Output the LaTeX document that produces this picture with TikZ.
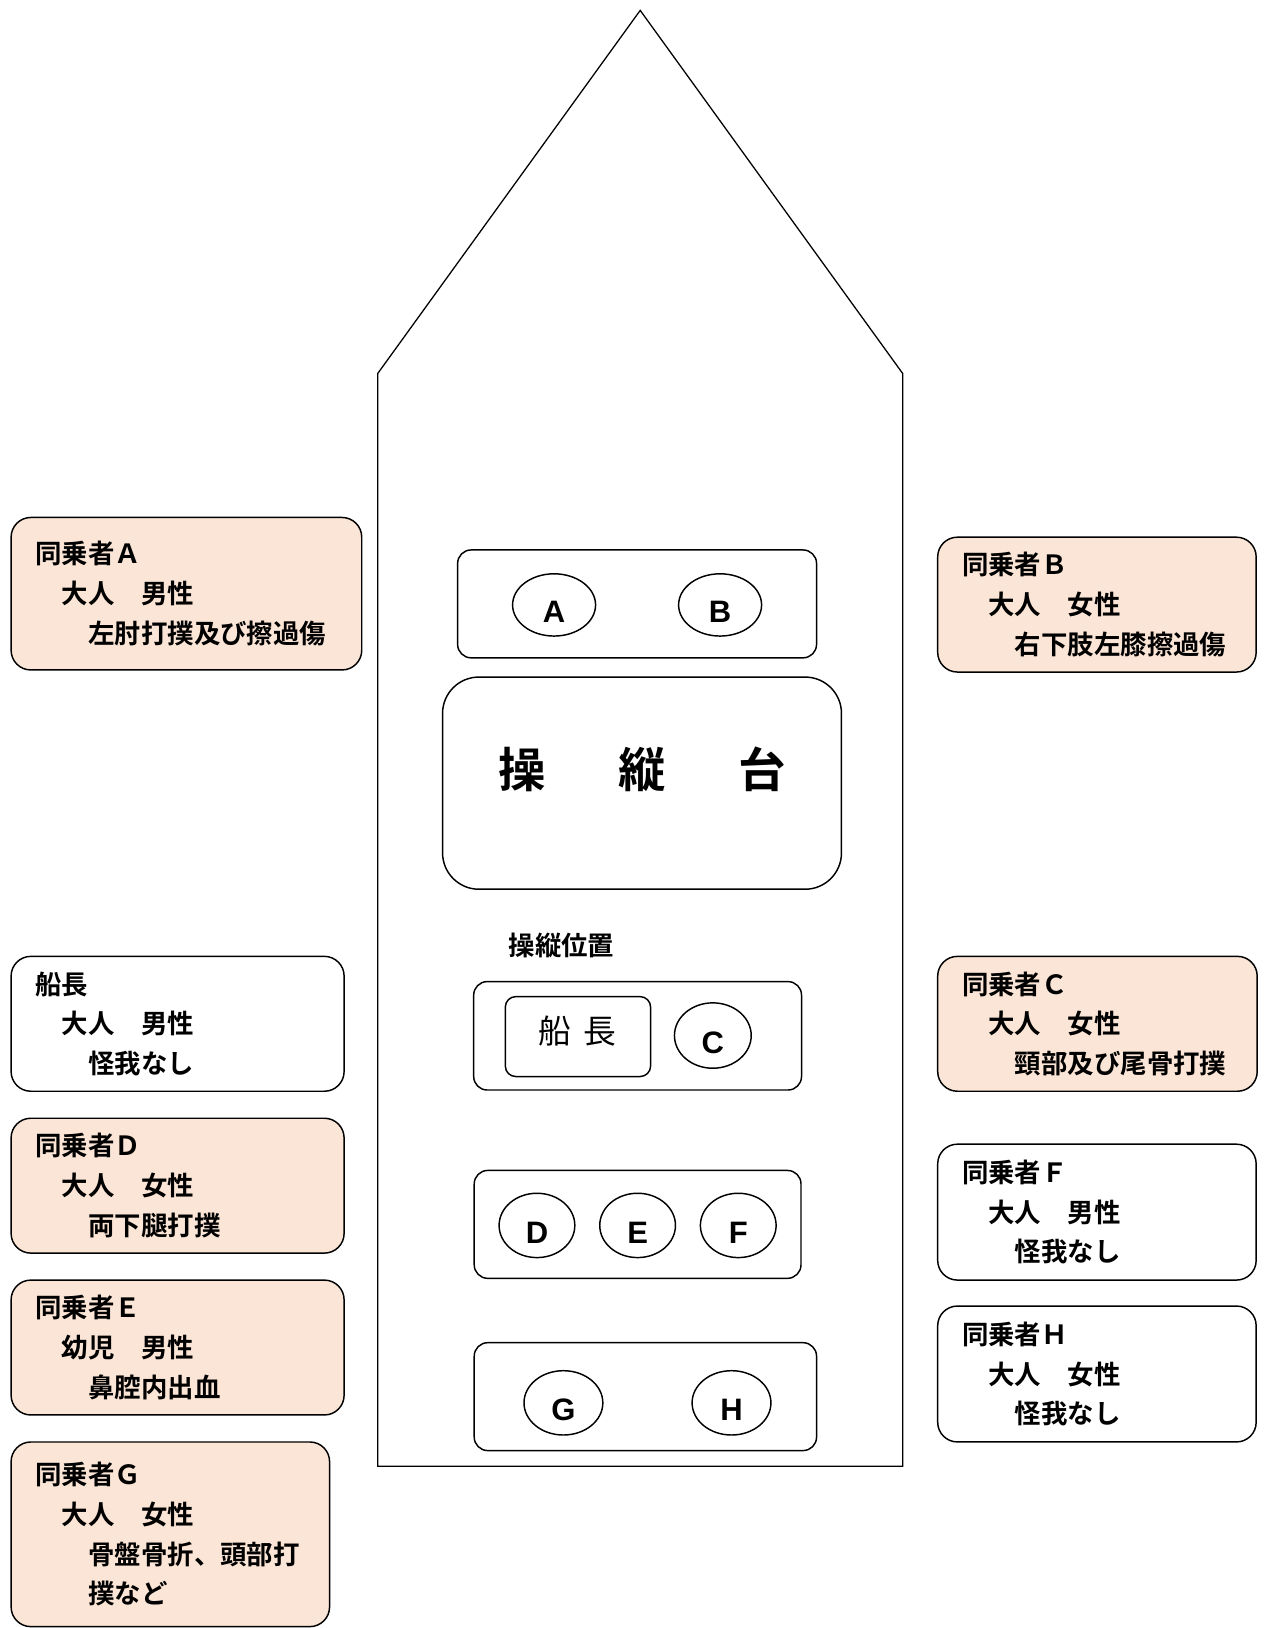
\documentclass[tikz,border=0pt]{standalone}
\usepackage{fontspec}
\setmainfont{Noto Sans CJK JP}[BoldFont={Noto Sans CJK JP Bold}]
\newfontfamily\seatfont{Liberation Sans}
\usetikzlibrary{shapes.geometric,positioning}
\definecolor{injury}{RGB}{251,229,214}

\begin{document}
\begin{tikzpicture}[x=0.02cm,y=-0.02cm,
    pbox/.style={draw,line width=0.8pt,rounded corners=0.38cm,anchor=north west,align=left,
        inner xsep=0.47cm,inner ysep=0pt,minimum height=2.6cm,text width=5.2cm,
        font=\bfseries\fontsize{14.5}{21.8}\selectfont},
    hurt/.style={pbox,fill=injury},
    rowbox/.style={draw,line width=0.8pt,rounded corners=0.26cm,inner sep=0pt},
    seat/.style={ellipse,draw,line width=0.8pt,inner sep=0pt,minimum width=1.6cm,minimum height=1.2cm,
        text height=0.68cm,text depth=0pt,font=\seatfont\bfseries\fontsize{17}{17}\selectfont}]
\useasboundingbox (0,0) rectangle (1220,1569);

% hull
\draw[line width=0.7pt] (617,10) -- (870,360) -- (870,1413) -- (364,1413) -- (364,360) -- cycle;

% front seats and console
\node[rowbox,minimum width=6.92cm,minimum height=2.08cm] (rowAB) at (614,582) {};
\node[seat] (A) at (534,583) {A};
\node[seat] (B) at (694,583) {B};
\node[rowbox,rounded corners=0.7cm,minimum width=7.69cm,minimum height=4.09cm] (console) at (618.75,754.75) {};
\node[font=\bfseries\fontsize{26}{26}\selectfont] (consolelabel) at (619,741) {操\hspace{1.4cm}縦\hspace{1.4cm}台};

% helm
\node[anchor=west,font=\bfseries\fontsize{14.5}{14.5}\selectfont] (helmlabel) at (484,911) {操縦位置};
\node[rowbox,minimum width=6.32cm,minimum height=2.09cm] (rowCaptain) at (614.5,998.25) {};
\node[rowbox,rounded corners=0.2cm,minimum width=2.8cm,minimum height=1.54cm] (captainseat) at (557,999) {};
\node[font=\fontsize{18}{18}\selectfont] (captainlabel) at (556.5,993.5) {船\hspace{0.25cm}長};
\node[seat,minimum width=1.48cm,minimum height=1.26cm] (C) at (687,998) {C};

% rear seats
\node[rowbox,minimum width=6.3cm,minimum height=2.08cm] (rowDEF) at (614.5,1180) {};
\node[seat,minimum width=1.46cm,minimum height=1.24cm] (D) at (517.5,1181) {D};
\node[seat,minimum width=1.46cm,minimum height=1.24cm] (E) at (614.5,1181) {E};
\node[seat,minimum width=1.46cm,minimum height=1.24cm] (F) at (711.5,1181) {F};
\node[rowbox,minimum width=6.6cm,minimum height=2.08cm] (rowGH) at (622,1346) {};
\node[seat,minimum width=1.52cm,minimum height=1.24cm] (G) at (543,1352) {G};
\node[seat,minimum width=1.52cm,minimum height=1.24cm] (H) at (705,1352) {H};

% persons on board
\node[hurt,text width=5.82cm,minimum height=2.94cm] (infoA) at (10,498) {同乗者Ａ\\　大人　男性\\　　左肘打撲及び擦過傷};
\node[pbox,text width=5.48cm] (infoCaptain) at (10,921) {船長\\　大人　男性\\　　怪我なし};
\node[hurt,text width=5.48cm] (infoD) at (10,1077) {同乗者Ｄ\\　大人　女性\\　　両下腿打撲};
\node[hurt,text width=5.48cm] (infoE) at (10,1233) {同乗者Ｅ\\　幼児　男性\\　　鼻腔内出血};
\node[hurt,minimum height=3.56cm] (infoG) at (10,1389) {同乗者Ｇ\\　大人　女性\\　　骨盤骨折、頭部打\\　　撲など};
\node[hurt] (infoB) at (903,517) {同乗者Ｂ\\　大人　女性\\　　右下肢左膝擦過傷};
\node[hurt,text width=5.22cm] (infoC) at (903,921) {同乗者Ｃ\\　大人　女性\\　　頸部及び尾骨打撲};
\node[pbox,minimum height=2.62cm] (infoF) at (903,1102) {同乗者Ｆ\\　大人　男性\\　　怪我なし};
\node[pbox,minimum height=2.62cm] (infoH) at (903,1258) {同乗者Ｈ\\　大人　女性\\　　怪我なし};
\end{tikzpicture}
\end{document}
